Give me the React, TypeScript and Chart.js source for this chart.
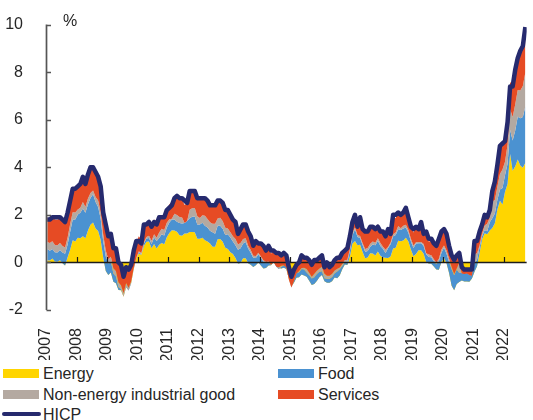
import React, { useEffect, useRef } from "react";
import { Chart, registerables } from "chart.js";

Chart.register(...registerables);

// ---------- data ----------
const FIRST_YEAR = 2007;
const LAST_X = 2022.75; // end of Sep 2022
const YEAR_TICKS = [2007, 2008, 2009, 2010, 2011, 2012, 2013, 2014, 2015, 2016, 2017, 2018, 2019, 2020, 2021, 2022];
const Y_TICKS = [-2, 0, 2, 4, 6, 8, 10];
const UNIT_LABEL = "%";

const SERIES_LABELS = ["Energy", "Food", "Non-energy industrial good", "Services", "HICP"];

// HICP, annual % change (Jan 2007 - Sep 2022)
const hicp = [
  1.8, 1.8, 1.9, 1.9, 1.9, 1.9, 1.8, 1.7, 2.1, 2.6, 3.1, 3.1,
  3.2, 3.3, 3.6, 3.3, 3.7, 4.0, 4.0, 3.8, 3.6, 3.2, 2.1, 1.6,
  1.1, 1.2, 0.6, 0.6, 0.0, -0.1, -0.6, -0.2, -0.3, -0.1, 0.5, 0.9,
  0.9, 0.8, 1.6, 1.6, 1.7, 1.5, 1.7, 1.6, 1.9, 1.9, 1.9, 2.2,
  2.3, 2.4, 2.7, 2.8, 2.7, 2.7, 2.6, 2.5, 3.0, 3.0, 3.0, 2.7,
  2.7, 2.7, 2.7, 2.6, 2.4, 2.4, 2.4, 2.6, 2.6, 2.5, 2.2, 2.2,
  2.0, 1.8, 1.7, 1.2, 1.4, 1.6, 1.6, 1.3, 1.1, 0.7, 0.9, 0.8,
  0.8, 0.7, 0.5, 0.7, 0.5, 0.5, 0.4, 0.4, 0.3, 0.4, 0.3, -0.2,
  -0.6, -0.3, -0.1, 0.0, 0.3, 0.2, 0.2, 0.1, -0.1, 0.1, 0.1, 0.2,
  0.3, -0.2, 0.0, -0.2, -0.1, 0.1, 0.2, 0.2, 0.4, 0.5, 0.6, 1.1,
  1.7, 2.0, 1.5, 1.9, 1.4, 1.3, 1.3, 1.5, 1.5, 1.4, 1.5, 1.3,
  1.3, 1.1, 1.4, 1.2, 2.0, 2.0, 2.1, 2.0, 2.1, 2.3, 1.9, 1.5,
  1.4, 1.5, 1.4, 1.7, 1.2, 1.3, 1.0, 1.0, 0.8, 0.7, 1.0, 1.3,
  1.4, 1.2, 0.7, 0.3, 0.1, 0.3, 0.4, -0.2, -0.3, -0.3, -0.3, -0.3,
  0.9, 0.9, 1.3, 1.6, 2.0, 1.9, 2.2, 3.0, 3.4, 4.1, 4.9, 5.0,
  5.1, 5.9, 7.4, 7.4, 8.1, 8.6, 8.9, 9.1, 9.9,
];

// contributions, percentage points
const energy = [
  0.09, 0.08, 0.17, 0.04, 0.03, 0.09, -0.03, -0.13, 0.22, 0.53, 0.93, 0.88,
  1.04, 1.02, 1.10, 1.02, 1.34, 1.58, 1.68, 1.43, 1.32, 0.94, 0.21, -0.36,
  -0.53, -0.42, -0.81, -0.88, -1.16, -1.17, -1.44, -1.02, -1.10, -0.85, -0.24, 0.18,
  0.38, 0.32, 0.69, 0.87, 0.88, 0.60, 0.78, 0.59, 0.74, 0.82, 0.76, 1.06,
  1.24, 1.35, 1.34, 1.29, 1.14, 1.12, 1.22, 1.22, 1.28, 1.28, 1.27, 1.00,
  1.00, 1.04, 0.93, 0.88, 0.80, 0.66, 0.66, 0.97, 0.99, 0.87, 0.62, 0.57,
  0.43, 0.35, 0.19, -0.04, -0.02, 0.18, 0.18, -0.03, -0.10, -0.19, -0.12, 0.00,
  -0.13, -0.25, -0.23, -0.13, -0.12, 0.01, -0.11, -0.22, -0.25, -0.22, -0.28, -0.69,
  -1.00, -0.85, -0.64, -0.62, -0.51, -0.55, -0.60, -0.77, -0.95, -0.91, -0.78, -0.62,
  -0.53, -0.79, -0.85, -0.85, -0.79, -0.63, -0.66, -0.55, -0.29, -0.09, -0.11, 0.25,
  0.79, 0.90, 0.72, 0.74, 0.44, 0.18, 0.21, 0.39, 0.38, 0.29, 0.46, 0.28,
  0.21, 0.20, 0.19, 0.25, 0.59, 0.62, 0.91, 0.89, 0.92, 1.04, 0.88, 0.53,
  0.26, 0.35, 0.51, 0.51, 0.37, 0.02, -0.05, -0.06, -0.17, -0.30, -0.31, 0.02,
  0.19, -0.03, -0.44, -0.98, -1.17, -0.91, -0.82, -0.76, -0.80, -0.80, -0.81, -0.68,
  -0.39, -0.16, 0.40, 0.98, 1.23, 1.18, 1.34, 1.45, 1.65, 2.23, 2.59, 2.44,
  2.97, 3.30, 4.56, 3.86, 4.03, 4.33, 4.08, 3.98, 4.19,
];

const food = [
  0.47, 0.41, 0.39, 0.39, 0.39, 0.43, 0.45, 0.49, 0.53, 0.76, 0.88, 0.92,
  0.98, 1.07, 1.17, 1.07, 1.11, 1.13, 1.19, 1.11, 1.01, 0.90, 0.68, 0.62,
  0.49, 0.46, 0.34, 0.29, 0.13, 0.04, 0.00, -0.02, -0.08, -0.02, -0.04, -0.02,
  0.06, 0.02, 0.12, 0.14, 0.15, 0.17, 0.27, 0.31, 0.29, 0.37, 0.37, 0.41,
  0.44, 0.46, 0.46, 0.42, 0.52, 0.52, 0.44, 0.52, 0.58, 0.64, 0.66, 0.60,
  0.59, 0.63, 0.61, 0.59, 0.53, 0.61, 0.55, 0.57, 0.55, 0.55, 0.53, 0.61,
  0.62, 0.53, 0.53, 0.57, 0.62, 0.62, 0.68, 0.62, 0.51, 0.39, 0.31, 0.33,
  0.33, 0.29, 0.20, 0.14, 0.02, 0.04, -0.06, -0.06, 0.06, 0.10, 0.10, 0.00,
  -0.02, 0.10, 0.20, 0.21, 0.23, 0.25, 0.18, 0.23, 0.27, 0.29, 0.29, 0.23,
  0.16, 0.12, 0.16, 0.16, 0.18, 0.18, 0.28, 0.26, 0.14, 0.10, 0.14, 0.24,
  0.35, 0.49, 0.35, 0.29, 0.29, 0.27, 0.27, 0.27, 0.37, 0.43, 0.45, 0.41,
  0.37, 0.20, 0.41, 0.51, 0.51, 0.53, 0.49, 0.47, 0.51, 0.43, 0.37, 0.35,
  0.35, 0.45, 0.30, 0.30, 0.32, 0.32, 0.28, 0.28, 0.22, 0.22, 0.37, 0.39,
  0.44, 0.40, 0.46, 0.69, 0.63, 0.61, 0.38, 0.32, 0.34, 0.36, 0.36, 0.25,
  0.32, 0.28, 0.24, 0.13, 0.13, 0.13, 0.35, 0.41, 0.41, 0.41, 0.48, 0.69,
  0.71, 0.85, 1.01, 1.27, 1.52, 1.80, 1.98, 2.14, 2.38,
];

const neig = [
  0.30, 0.33, 0.33, 0.30, 0.30, 0.30, 0.27, 0.27, 0.30, 0.33, 0.30, 0.30,
  0.21, 0.21, 0.27, 0.24, 0.24, 0.21, 0.15, 0.21, 0.27, 0.27, 0.27, 0.24,
  0.17, 0.20, 0.23, 0.23, 0.20, 0.17, 0.15, 0.17, 0.12, 0.09, 0.06, 0.03,
  0.03, 0.06, 0.03, 0.06, 0.09, 0.14, 0.14, 0.14, 0.23, 0.23, 0.23, 0.20,
  0.14, 0.03, 0.25, 0.28, 0.25, 0.25, 0.00, 0.00, 0.36, 0.36, 0.36, 0.34,
  0.28, 0.31, 0.42, 0.36, 0.36, 0.36, 0.42, 0.31, 0.34, 0.31, 0.31, 0.25,
  0.22, 0.22, 0.27, 0.22, 0.22, 0.19, 0.16, 0.11, 0.11, 0.08, 0.08, 0.08,
  0.05, 0.05, 0.05, 0.03, 0.00, -0.03, 0.00, 0.08, 0.05, 0.00, -0.03, -0.03,
  -0.03, -0.03, -0.03, 0.05, 0.05, 0.08, 0.14, 0.11, 0.08, 0.14, 0.14, 0.14,
  0.19, 0.19, 0.13, 0.13, 0.13, 0.11, 0.11, 0.08, 0.08, 0.08, 0.08, 0.08,
  0.13, 0.08, 0.08, 0.08, 0.08, 0.11, 0.13, 0.13, 0.13, 0.11, 0.11, 0.13,
  0.08, 0.13, 0.05, 0.08, 0.08, 0.11, 0.13, 0.08, 0.11, 0.11, 0.11, 0.11,
  0.10, 0.05, 0.05, 0.05, 0.08, 0.05, 0.10, 0.08, 0.08, 0.08, 0.10, 0.13,
  0.08, 0.13, 0.13, 0.10, 0.05, 0.05, 0.44, -0.03, -0.03, -0.03, -0.08, -0.13,
  0.41, 0.27, 0.08, 0.11, 0.19, 0.32, 0.19, 0.70, 0.57, 0.54, 0.65, 0.78,
  0.55, 0.81, 0.88, 0.99, 1.09, 1.12, 1.17, 1.30, 1.43,
];

const services = [
  1.03, 1.03, 1.07, 1.07, 1.07, 1.07, 1.07, 1.07, 1.03, 1.07, 1.07, 1.03,
  1.03, 0.98, 1.15, 0.94, 1.03, 1.03, 1.07, 1.07, 1.07, 1.07, 1.07, 1.07,
  0.98, 0.98, 0.78, 1.03, 0.82, 0.82, 0.78, 0.78, 0.74, 0.74, 0.66, 0.66,
  0.63, 0.55, 0.67, 0.46, 0.63, 0.59, 0.63, 0.59, 0.59, 0.55, 0.59, 0.55,
  0.63, 0.71, 0.67, 0.84, 0.71, 0.76, 0.76, 0.76, 0.76, 0.71, 0.80, 0.80,
  0.80, 0.76, 0.76, 0.71, 0.76, 0.71, 0.76, 0.76, 0.71, 0.76, 0.76, 0.76,
  0.69, 0.65, 0.77, 0.47, 0.65, 0.60, 0.60, 0.60, 0.65, 0.52, 0.60, 0.43,
  0.52, 0.52, 0.43, 0.69, 0.47, 0.56, 0.56, 0.56, 0.47, 0.52, 0.47, 0.52,
  0.44, 0.48, 0.48, 0.44, 0.57, 0.48, 0.53, 0.53, 0.57, 0.53, 0.53, 0.48,
  0.54, 0.41, 0.63, 0.45, 0.45, 0.50, 0.54, 0.50, 0.50, 0.54, 0.50, 0.59,
  0.55, 0.59, 0.46, 0.82, 0.59, 0.73, 0.73, 0.73, 0.68, 0.55, 0.59, 0.55,
  0.55, 0.60, 0.69, 0.46, 0.74, 0.60, 0.64, 0.60, 0.60, 0.69, 0.60, 0.60,
  0.55, 0.64, 0.51, 0.87, 0.46, 0.74, 0.55, 0.60, 0.69, 0.69, 0.87, 0.83,
  0.69, 0.74, 0.60, 0.74, 0.60, 0.55, 0.41, 0.32, 0.23, 0.18, 0.28, 0.32,
  0.60, 0.52, 0.56, 0.39, 0.47, 0.30, 0.39, 0.47, 0.73, 0.90, 1.16, 1.03,
  0.97, 1.05, 1.13, 1.39, 1.47, 1.43, 1.55, 1.60, 1.81,
];

// ---------- styles ----------
const C_ENERGY = "#FFD500";
const C_FOOD = "#4B92D1";
const C_NEIG = "#B4A9A1";
const C_SERV = "#E64B24";
const C_HICP = "#262A6E";
const TEXT = "#262626";
const FONT_FAMILY = '"Liberation Sans", Arial, Helvetica, sans-serif';

const W = 533;
const CANVAS_H = 360;

const axesPlugin = {
  id: "customAxes",
  afterDatasetDraw(chart: any, args: any) {
    if (args.index !== 1) return; // after the last filled area, before HICP line
    const { ctx, chartArea, scales } = chart;
    const xs = scales.x;
    const ys = scales.y;
    const y0 = ys.getPixelForValue(0);
    ctx.save();
    ctx.strokeStyle = "#1c1c1c";
    ctx.lineWidth = 1.4;
    ctx.beginPath();
    ctx.moveTo(chartArea.left, y0);
    ctx.lineTo(chartArea.right, y0);
    ctx.stroke();
    ctx.lineWidth = 1.2;
    ctx.beginPath();
    YEAR_TICKS.forEach((yr) => {
      if (yr === YEAR_TICKS[0]) return;
      const px = Math.round(xs.getPixelForValue(yr)) + 0.5;
      ctx.moveTo(px, y0);
      ctx.lineTo(px, y0 - 5.5);
    });
    ctx.stroke();
    ctx.restore();
  },
  afterDatasetsDraw(chart: any) {
    const { ctx, chartArea, scales } = chart;
    const ys = scales.y;
    const x = chartArea.left + 0.5;
    ctx.save();
    ctx.strokeStyle = "#555555";
    ctx.lineWidth = 1.7;
    ctx.beginPath();
    ctx.moveTo(x, ys.getPixelForValue(Y_TICKS[Y_TICKS.length - 1]));
    ctx.lineTo(x, ys.getPixelForValue(Y_TICKS[0]));
    Y_TICKS.forEach((v) => {
      const py = Math.round(ys.getPixelForValue(v)) + 0.5;
      ctx.moveTo(x, py);
      ctx.lineTo(x + 4.5, py);
    });
    ctx.stroke();
    ctx.restore();
  },
};

function monthX(i: number) {
  return FIRST_YEAR + (i + 0.5) / 12;
}

export default function App() {
  const canvasRef = useRef<HTMLCanvasElement>(null);

  useEffect(() => {
    const cumE = energy.map((v) => v);
    const cumF = energy.map((v, i) => v + food[i]);
    const cumN = cumF.map((v, i) => v + neig[i]);
    const cumS = cumN.map((v, i) => v + services[i]);
    const pts = (arr: number[]) => arr.map((y, i) => ({ x: monthX(i), y }));
    const area = (label: string, data: number[], color: string, fill: any) => ({
      label,
      data: pts(data),
      backgroundColor: color,
      borderColor: "rgba(0,0,0,0)",
      borderWidth: 0,
      pointRadius: 0,
      tension: 0,
      fill,
    });

    const chart = new Chart(canvasRef.current as HTMLCanvasElement, {
      type: "line",
      data: {
        datasets: [
          {
            label: SERIES_LABELS[4],
            data: pts(hicp),
            borderColor: C_HICP,
            backgroundColor: C_HICP,
            borderWidth: 4.5,
            pointRadius: 0,
            tension: 0,
            fill: false,
            borderJoinStyle: "round",
          } as any,
          area(SERIES_LABELS[3], cumS, C_SERV, "+1"),
          area(SERIES_LABELS[2], cumN, C_NEIG, "+1"),
          area(SERIES_LABELS[1], cumF, C_FOOD, "+1"),
          area(SERIES_LABELS[0], cumE, C_ENERGY, "origin"),
        ],
      },
      options: {
        responsive: false,
        animation: false,
        layout: { padding: { top: 21, right: 1, left: 0, bottom: 0 } },
        plugins: {
          legend: { display: false },
          tooltip: { enabled: false },
        },
        scales: {
          x: {
            type: "linear",
            min: FIRST_YEAR,
            max: LAST_X,
            grid: { display: false },
            border: { display: false },
            afterFit: (s: any) => {
              s.height = CANVAS_H - 310;
            },
            afterBuildTicks: (s: any) => {
              s.ticks = YEAR_TICKS.map((v) => ({ value: v }));
            },
            ticks: {
              autoSkip: false,
              minRotation: 90,
              maxRotation: 90,
              padding: 10,
              color: TEXT,
              font: { family: FONT_FAMILY, size: 16 },
              callback: (v: any) => String(v),
            },
          },
          y: {
            min: Y_TICKS[0],
            max: Y_TICKS[Y_TICKS.length - 1],
            grid: { display: false },
            border: { display: false },
            afterFit: (s: any) => {
              s.width = 46;
            },
            afterBuildTicks: (s: any) => {
              s.ticks = Y_TICKS.map((v) => ({ value: v }));
            },
            ticks: {
              padding: 15,
              color: TEXT,
              font: { family: FONT_FAMILY, size: 16 },
              callback: (v: any) => String(v),
            },
          },
        },
      } as any,
      plugins: [axesPlugin as any],
    });
    return () => chart.destroy();
  }, []);

  const textStyle: React.CSSProperties = {
    position: "absolute",
    fontFamily: FONT_FAMILY,
    fontSize: 16,
    lineHeight: "18px",
    color: TEXT,
    whiteSpace: "nowrap",
  };

  const legendItems = [
    { label: SERIES_LABELS[0], color: C_ENERGY, col: 0, row: 0, kind: "box" },
    { label: SERIES_LABELS[1], color: C_FOOD, col: 1, row: 0, kind: "box" },
    { label: SERIES_LABELS[2], color: C_NEIG, col: 0, row: 1, kind: "box" },
    { label: SERIES_LABELS[3], color: C_SERV, col: 1, row: 1, kind: "box" },
    { label: SERIES_LABELS[4], color: C_HICP, col: 0, row: 2, kind: "line" },
  ];
  const colX = [3, 278];
  const rowBaseline = [379, 400, 420];

  return (
    <div style={{ position: "absolute", left: 0, top: 0, width: W, height: 420, overflow: "hidden", background: "#fff" }}>
      <canvas ref={canvasRef} width={W} height={CANVAS_H} style={{ position: "absolute", left: 0, top: 0, width: W, height: CANVAS_H }} />
      <span style={{ ...textStyle, left: 63, top: 12 }}>{UNIT_LABEL}</span>
      {legendItems.map((it) => {
        const x = colX[it.col];
        const b = rowBaseline[it.row];
        return (
          <React.Fragment key={it.label}>
            {it.kind === "box" ? (
              <div style={{ position: "absolute", left: x, top: b - 10, width: 36, height: 9, background: it.color }} />
            ) : (
              <div style={{ position: "absolute", left: x - 1, top: b - 8, width: 39, height: 4, borderRadius: 2, background: it.color }} />
            )}
            <span style={{ ...textStyle, left: x + 40, top: b - 14 }}>{it.label}</span>
          </React.Fragment>
        );
      })}
    </div>
  );
}
